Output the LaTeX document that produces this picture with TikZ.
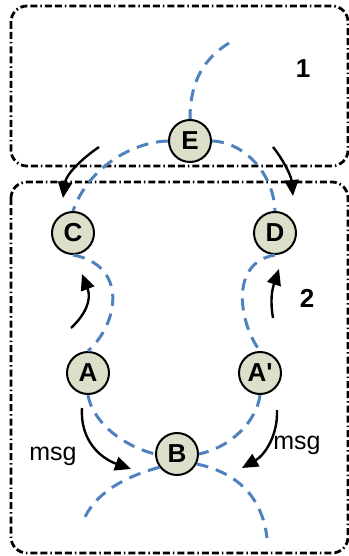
\documentclass[tikz,border=0pt]{standalone}
\usepackage{fontspec}
\setmainfont{Liberation Sans}
\usetikzlibrary{arrows.meta}
\definecolor{ringblue}{HTML}{4F81BD}
\definecolor{peerfill}{HTML}{DCE0CA}
\begin{document}
\begin{tikzpicture}[x=1pt,y=1pt,
                peer/.style={circle,draw,line width=2pt,fill=peerfill,minimum size=42pt,inner sep=0pt,font=\fontsize{26}{26}\selectfont\bfseries},
                zone/.style={line width=2.8pt,rounded corners=16pt,dash pattern=on 7pt off 3pt on 7pt off 3pt on 1.5pt off 3pt},
                link/.style={ringblue,line width=3pt,dash pattern=on 12pt off 8pt},
                hop/.style={line width=2.4pt,-{Triangle[length=16pt,width=14pt]}},
                lbl/.style={anchor=base,font=\fontsize{25}{25}\selectfont}]
                \useasboundingbox (0,0) rectangle (348,-556);
                \draw[zone] (11,-6) rectangle (348,-166);
                \draw[zone] (11,-182) rectangle (348,-553);
                \node[lbl,font=\fontsize{26}{26}\selectfont\bfseries](ONE) at (303,-78) {1};
                \node[lbl,font=\fontsize{26}{26}\selectfont\bfseries](TWO) at (307,-307) {2};
                \coordinate (TOP) at (229,-43);
                \coordinate (BL) at (85,-517);
                \coordinate (BR) at (267,-538);
                \node[peer](E) at (190,-141) {E};
                \node[peer](C) at (73,-233) {C};
                \node[peer](D) at (275,-233) {D};
                \node[peer](A) at (88,-373) {A};
                \node[peer](AP) at (260,-373) {A\textquotesingle};
                \node[peer](B) at (177,-454) {B};
                \draw[link] (TOP) .. controls (205,-58) and (190,-80) .. (E.north);
                \draw[link] (E.west) .. controls (132,-142) and (88,-168) .. (C.north);
                \draw[link] (E.east) .. controls (245,-142) and (274,-175) .. (D.north);
                \draw[link] (C.south) .. controls (127,-265) and (120,-322) .. (A.north);
                \draw[link] (D.south) .. controls (228,-263) and (240,-325) .. (AP.north);
                \draw[link] (A.south) .. controls (92,-420) and (120,-445) .. (B.west);
                \draw[link] (AP.south) .. controls (257,-420) and (232,-447) .. (B.east);
                \draw[link] (B.217) .. controls (135,-474) and (100,-487) .. (BL);
                \draw[link] (B.-27) .. controls (235,-472) and (262,-495) .. (BR);
                \coordinate (ECs) at (99,-147);
                \coordinate (ECt) at (63,-198);
                \coordinate (EDs) at (273,-147);
                \coordinate (EDt) at (293,-196);
                \coordinate (ACs) at (71,-328);
                \coordinate (ACt) at (82,-274);
                \coordinate (ADs) at (273,-318);
                \coordinate (ADt) at (279,-269);
                \coordinate (ABs) at (82,-408);
                \coordinate (ABt) at (131,-469);
                \coordinate (APBs) at (277,-410);
                \coordinate (APBt) at (242,-468);
                \draw[hop] (ECs) .. controls (80,-160) and (66,-175) .. (ECt);
                \draw[hop] (EDs) .. controls (282,-158) and (291,-175) .. (EDt);
                \draw[hop] (ACs) .. controls (85,-315) and (92,-300) .. (ACt);
                \draw[hop] (ADs) .. controls (270,-300) and (272,-290) .. (ADt);
                \draw[hop] (ABs) .. controls (80,-440) and (100,-458) .. (ABt);
                \draw[hop] (APBs) .. controls (278,-435) and (265,-455) .. (APBt);
                \node[lbl](MSGA) at (53,-460) {msg};
                \node[lbl](MSGB) at (297,-449) {msg};
            \end{tikzpicture}
\end{document}
